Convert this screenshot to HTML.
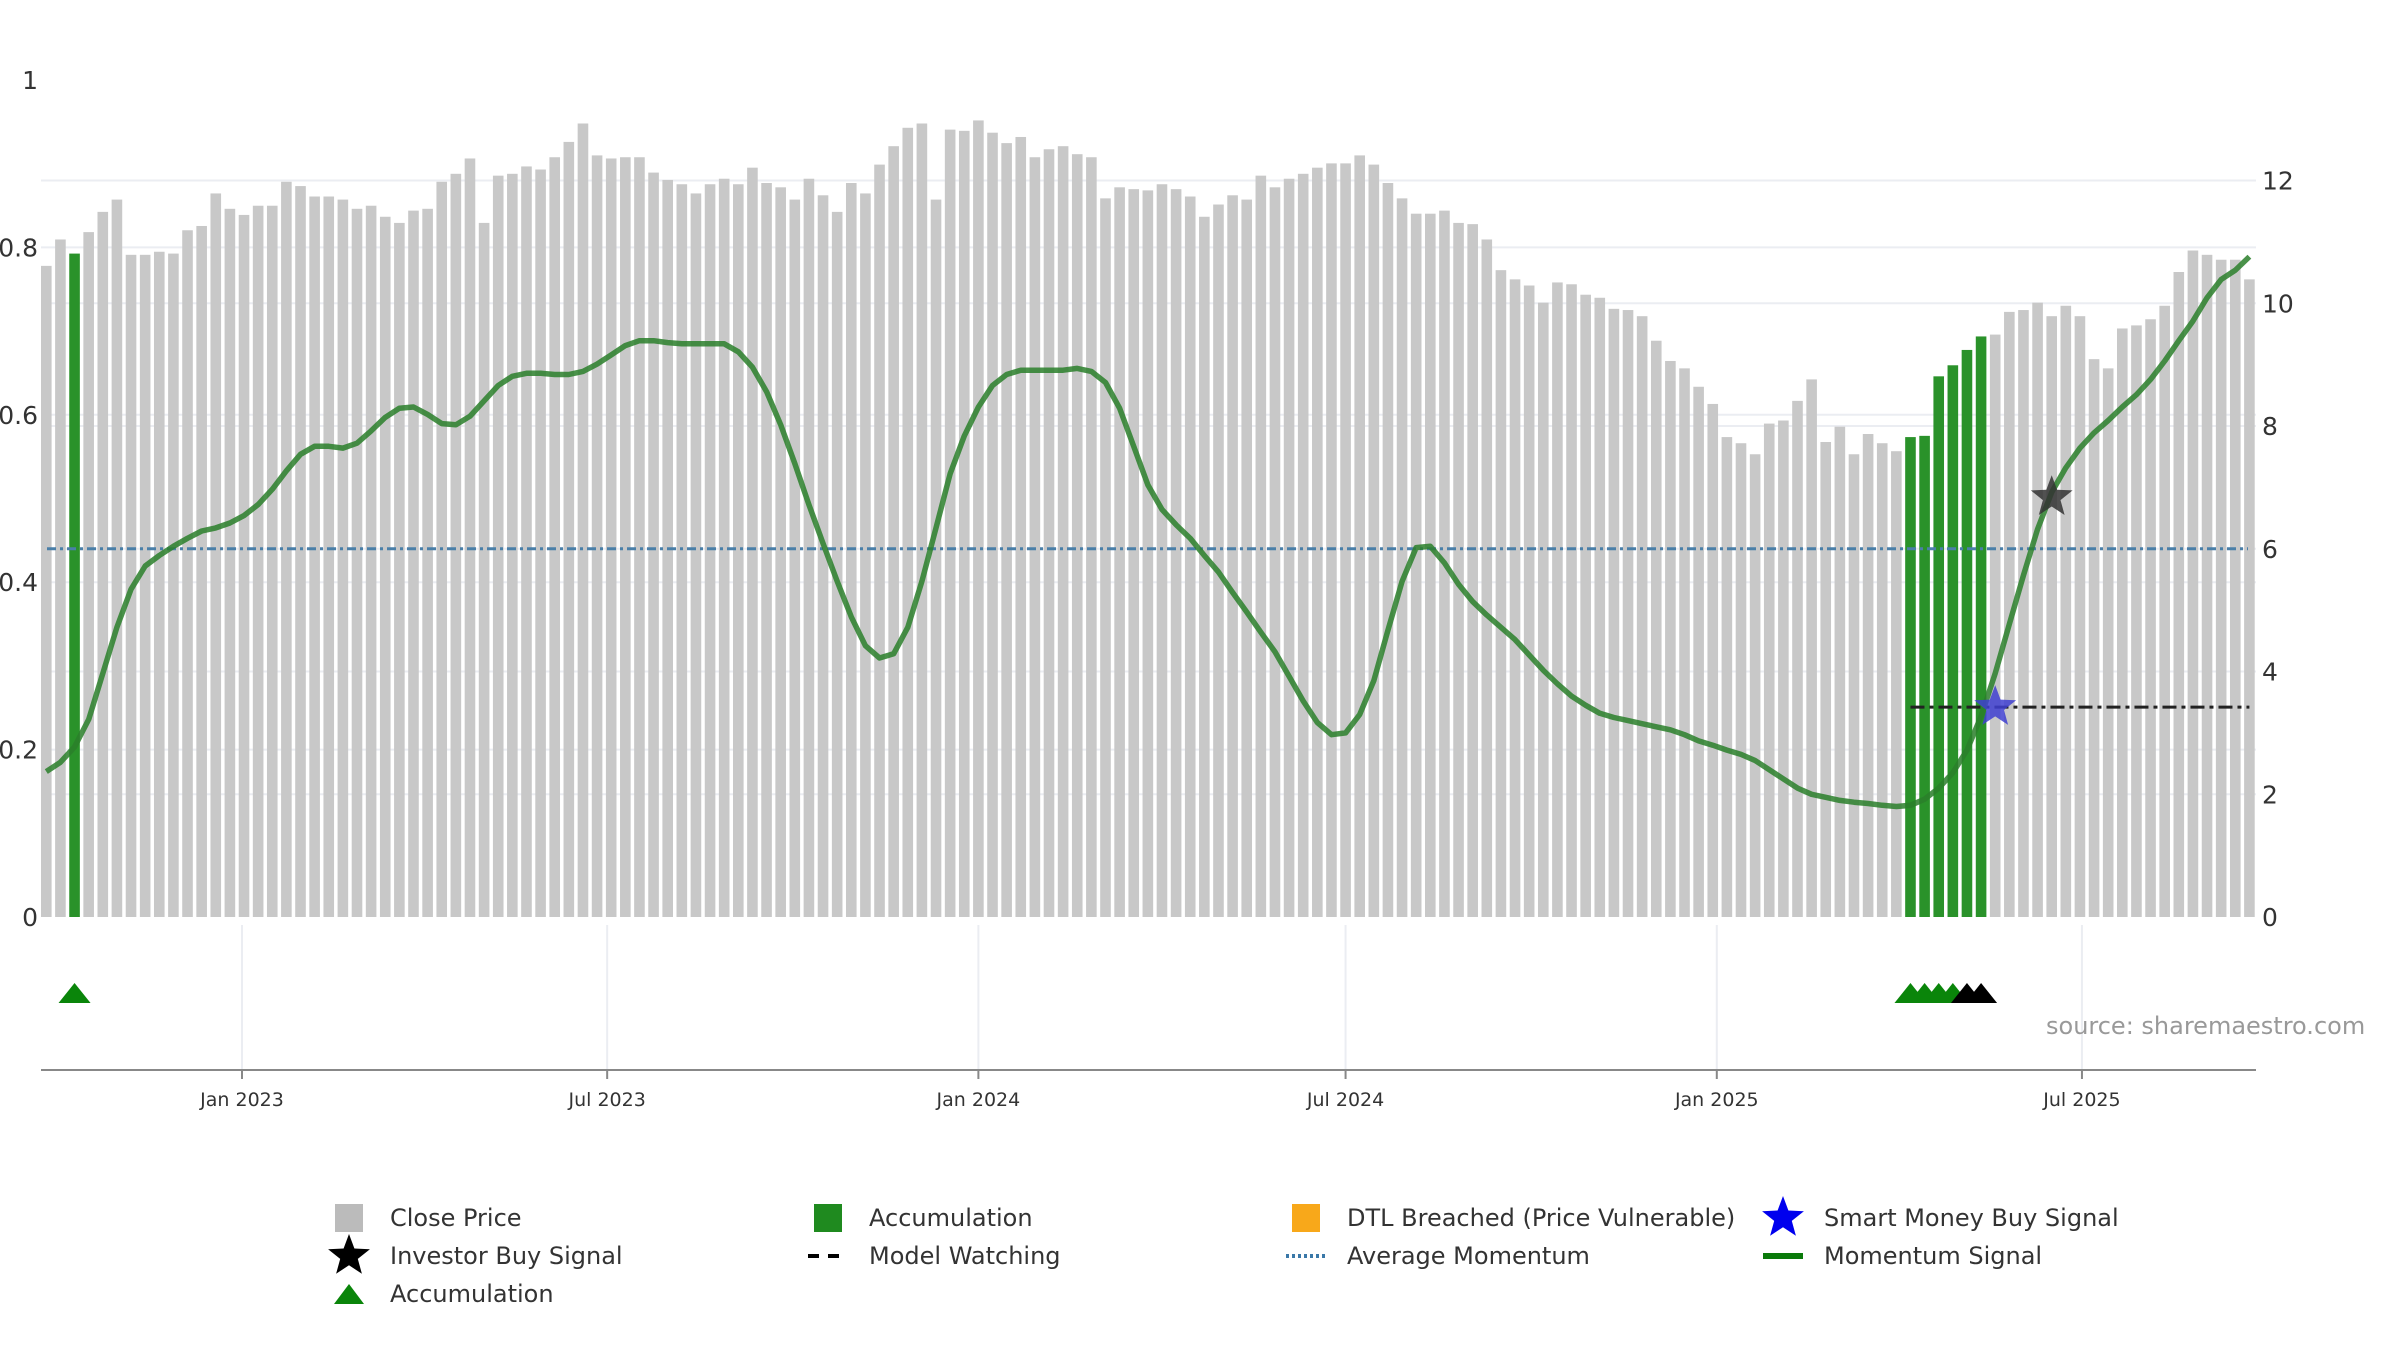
<!DOCTYPE html>
<html><head><meta charset="utf-8">
<style>
html,body{margin:0;padding:0;background:#fff;}
svg{display:block;font-family:"DejaVu Sans","Liberation Sans",sans-serif;}
</style></head>
<body>
<svg id="chart" width="2400" height="1350" viewBox="0 0 2400 1350" xmlns="http://www.w3.org/2000/svg">
<g id="grid"></g>
<g id="bars"></g>
<g id="lines"></g>
<g id="axes"></g>
<text x="2046" y="1034" font-size="24" fill="#999">source: sharemaestro.com</text>
<g id="legend"></g>
</svg>
<script>
// ---- data ----
const startDate = "2022-09-26";
const closePrice = [10.61,11.04,10.81,11.16,11.49,11.69,10.79,10.79,10.84,10.81,11.19,11.26,11.79,11.54,11.44,11.59,11.59,11.98,11.91,11.74,11.74,11.69,11.54,11.59,11.41,11.31,11.51,11.54,11.98,12.11,12.36,11.31,12.08,12.11,12.23,12.18,12.38,12.63,12.93,12.41,12.36,12.38,12.38,12.13,12.01,11.94,11.79,11.94,12.03,11.94,12.21,11.96,11.89,11.69,12.03,11.76,11.49,11.96,11.79,12.26,12.56,12.86,12.93,11.69,12.83,12.81,12.98,12.78,12.61,12.71,12.38,12.51,12.56,12.43,12.38,11.71,11.89,11.86,11.84,11.94,11.86,11.74,11.41,11.61,11.76,11.69,12.08,11.89,12.03,12.11,12.21,12.28,12.28,12.41,12.26,11.96,11.71,11.46,11.46,11.51,11.31,11.29,11.04,10.54,10.39,10.29,10.01,10.34,10.31,10.14,10.09,9.91,9.89,9.79,9.39,9.06,8.94,8.64,8.36,7.82,7.72,7.54,8.04,8.09,8.41,8.76,7.74,7.99,7.54,7.87,7.72,7.59,7.82,7.84,8.81,8.99,9.24,9.46,9.49,9.86,9.89,10.01,9.79,9.96,9.79,9.09,8.94,9.59,9.64,9.74,9.96,10.51,10.86,10.79,10.71,10.71,10.39];
const momentum = [2.37,2.52,2.77,3.22,3.97,4.72,5.34,5.72,5.89,6.04,6.17,6.29,6.34,6.42,6.54,6.72,6.97,7.27,7.54,7.67,7.67,7.64,7.72,7.92,8.14,8.29,8.31,8.19,8.04,8.02,8.16,8.41,8.66,8.81,8.86,8.86,8.84,8.84,8.89,9.01,9.16,9.31,9.39,9.39,9.36,9.34,9.34,9.34,9.34,9.21,8.96,8.56,8.02,7.39,6.72,6.09,5.47,4.89,4.42,4.22,4.29,4.72,5.47,6.34,7.22,7.84,8.31,8.66,8.84,8.91,8.91,8.91,8.91,8.94,8.89,8.71,8.29,7.67,7.04,6.64,6.39,6.17,5.89,5.62,5.29,4.97,4.64,4.32,3.92,3.52,3.17,2.97,3.00,3.30,3.85,4.67,5.47,6.02,6.04,5.77,5.42,5.14,4.92,4.72,4.52,4.27,4.02,3.80,3.60,3.45,3.32,3.25,3.20,3.15,3.10,3.05,2.97,2.87,2.80,2.72,2.65,2.55,2.40,2.25,2.10,2.00,1.95,1.90,1.87,1.85,1.82,1.80,1.82,1.92,2.10,2.35,2.72,3.27,3.97,4.77,5.57,6.32,6.92,7.32,7.64,7.89,8.09,8.31,8.51,8.76,9.06,9.39,9.71,10.09,10.39,10.54,10.76];
const accumulationBars = [2,132,133,134,135,136,137];
const accumulationTriangles = [2,132,133,134,135];
const investorTriangles = [136,137];
const averageMomentum = 6;
const modelWatchingLevel = 3.42;
const modelWatchingStart = 132;
const smartMoneySignal = {index:138, value:3.42};
const investorSignal = {index:142, value:6.84};
const rightTicks = [0,2,4,6,8,10,12];
const leftTicks = [0,0.2,0.4,0.6,0.8,1];
const leftTickLabels = ["0","0.2","0.4","0.6","0.8","1"];
const xTickDates = ["2023-01-01","2023-07-01","2024-01-01","2024-07-01","2025-01-01","2025-07-01"];
const xTickLabels = ["Jan 2023","Jul 2023","Jan 2024","Jul 2024","Jan 2025","Jul 2025"];

// ---- scales ----
const NS="http://www.w3.org/2000/svg";
const day=86400000;
const x0Date=Date.parse("2023-01-01"), x0Px=242, pxPerDay=2.0175;
function xDate(d){return x0Px+(Date.parse(d)-x0Date)/day*pxPerDay;}
function xIdx(i){return x0Px+(Date.parse(startDate)+i*7*day-x0Date)/day*pxPerDay;}
function yR(v){return 917-v*61.37;}
function yL(v){return 917-v*837;}
const PL=41, PR=2256, AXY=1070;
function mk(tag,attrs,parent){const e=document.createElementNS(NS,tag);for(const k in attrs)e.setAttribute(k,attrs[k]);parent.appendChild(e);return e;}
const grid=document.getElementById('grid'),bars=document.getElementById('bars'),lines=document.getElementById('lines'),axes=document.getElementById('axes'),legend=document.getElementById('legend');

// gridlines
rightTicks.forEach(v=>{if(v>0){const l=mk('line',{x1:PL,x2:PR,y1:yR(v),y2:yR(v),stroke:'#ebedf2','stroke-width':2},grid);

}});
leftTicks.forEach(v=>{if(v>0&&v<1){const l=mk('line',{x1:PL,x2:PR,y1:yL(v),y2:yL(v),stroke:'#ebedf2','stroke-width':2},grid);

}});
xTickDates.forEach(d=>{const l=mk('line',{x1:xDate(d),x2:xDate(d),y1:925,y2:AXY,stroke:'#ebedf2','stroke-width':2},grid);

});

// bars
closePrice.forEach((v,i)=>{const acc=accumulationBars.includes(i);
const r=mk('rect',{x:xIdx(i)-5.3,y:yR(v),width:10.6,height:yR(0)-yR(v),fill:acc?'#2a922a':'#c8c8c8'},bars);

});

// average momentum
const am=mk('line',{x1:PL+6,x2:PR-8,y1:yR(averageMomentum),y2:yR(averageMomentum),stroke:'#4a7fa8','stroke-width':3,'stroke-dasharray':'9,4,3,4'},lines);


// model watching
const mw=mk('line',{x1:xIdx(modelWatchingStart),x2:xIdx(closePrice.length-1),y1:yR(modelWatchingLevel),y2:yR(modelWatchingLevel),stroke:'#222','stroke-width':3,'stroke-dasharray':'14,5,4,5'},lines);


// momentum line
const pts=momentum.map((v,i)=>xIdx(i).toFixed(1)+','+yR(v).toFixed(1)).join(' ');
const ml=mk('polyline',{points:pts,fill:'none',stroke:'#2a7f2a','stroke-width':5.5,'stroke-opacity':0.85,'stroke-linejoin':'round'},lines);



function star(cx,cy,r){let p=[];for(let k=0;k<10;k++){const a=-Math.PI/2+k*Math.PI/5;const rr=k%2?r*0.42:r;p.push((cx+rr*Math.cos(a)).toFixed(1)+','+(cy+rr*Math.sin(a)).toFixed(1));}return p.join(' ');}
const s1=mk('polygon',{points:star(xIdx(smartMoneySignal.index),yR(smartMoneySignal.value),22),fill:'#4040d0','fill-opacity':0.85},lines);


const s2=mk('polygon',{points:star(xIdx(investorSignal.index),yR(investorSignal.value),22),fill:'#333','fill-opacity':0.85},lines);



function tri(cx,cy,col,name){const t=mk('polygon',{points:`${cx-16},${cy+11} ${cx},${cy-9} ${cx+16},${cy+11}`,fill:col},lines);

}
accumulationTriangles.forEach(i=>tri(xIdx(i),992,'#0a850a','accumulation-triangle'));
investorTriangles.forEach(i=>tri(xIdx(i),992,'#000','investor-triangle'));

// axes
const xa=mk('line',{x1:PL,x2:PR,y1:AXY,y2:AXY,stroke:'#888','stroke-width':2},axes);


xTickDates.forEach((d,i)=>{const x=xDate(d);
const tk=mk('line',{x1:x,x2:x,y1:AXY,y2:AXY+9,stroke:'#888','stroke-width':2},axes);


const t=mk('text',{x:x,y:AXY+36,'font-size':19,fill:'#333','text-anchor':'middle'},axes);t.textContent=xTickLabels[i];

});
leftTicks.forEach((v,i)=>{const t=mk('text',{x:38,y:yL(v)+9,'font-size':25,fill:'#333','text-anchor':'end'},axes);t.textContent=leftTickLabels[i];

});
rightTicks.forEach(v=>{const t=mk('text',{x:2262,y:yR(v)+9,'font-size':25,fill:'#333'},axes);t.textContent=String(v);

});

// legend
const cols=[349,828,1306,1783], rows=[1218,1256,1294];
function ltext(c,r,s){const t=mk('text',{x:cols[c]+41,y:rows[r]+8,'font-size':24,fill:'#333'},legend);t.textContent=s;

}
function lsq(c,r,col,name){const e=mk('rect',{x:cols[c]-14,y:rows[r]-14,width:28,height:28,fill:col},legend);

}
lsq(0,0,'#bbb','legend-close-price');ltext(0,0,'Close Price');
lsq(1,0,'#1f8a1f','legend-accumulation-bar');ltext(1,0,'Accumulation');
lsq(2,0,'#f8a81a','legend-dtl-breached');ltext(2,0,'DTL Breached (Price Vulnerable)');
let e=mk('polygon',{points:star(cols[3],rows[0],22),fill:'#0000ee'},legend);


ltext(3,0,'Smart Money Buy Signal');
e=mk('polygon',{points:star(cols[0],rows[1],22),fill:'#000'},legend);


ltext(0,1,'Investor Buy Signal');
e=mk('line',{x1:cols[1]-20,x2:cols[1]+20,y1:rows[1],y2:rows[1],stroke:'#000','stroke-width':4,'stroke-dasharray':'11,9'},legend);


ltext(1,1,'Model Watching');
e=mk('line',{x1:cols[2]-20,x2:cols[2]+20,y1:rows[1],y2:rows[1],stroke:'#3a78a8','stroke-width':4,'stroke-dasharray':'3,3'},legend);


ltext(2,1,'Average Momentum');
e=mk('line',{x1:cols[3]-20,x2:cols[3]+20,y1:rows[1],y2:rows[1],stroke:'#0a7a0a','stroke-width':6},legend);


ltext(3,1,'Momentum Signal');
e=mk('polygon',{points:`${cols[0]-15},${rows[2]+10} ${cols[0]},${rows[2]-10} ${cols[0]+15},${rows[2]+10}`,fill:'#0a850a'},legend);


ltext(0,2,'Accumulation');
</script>
</body></html>
